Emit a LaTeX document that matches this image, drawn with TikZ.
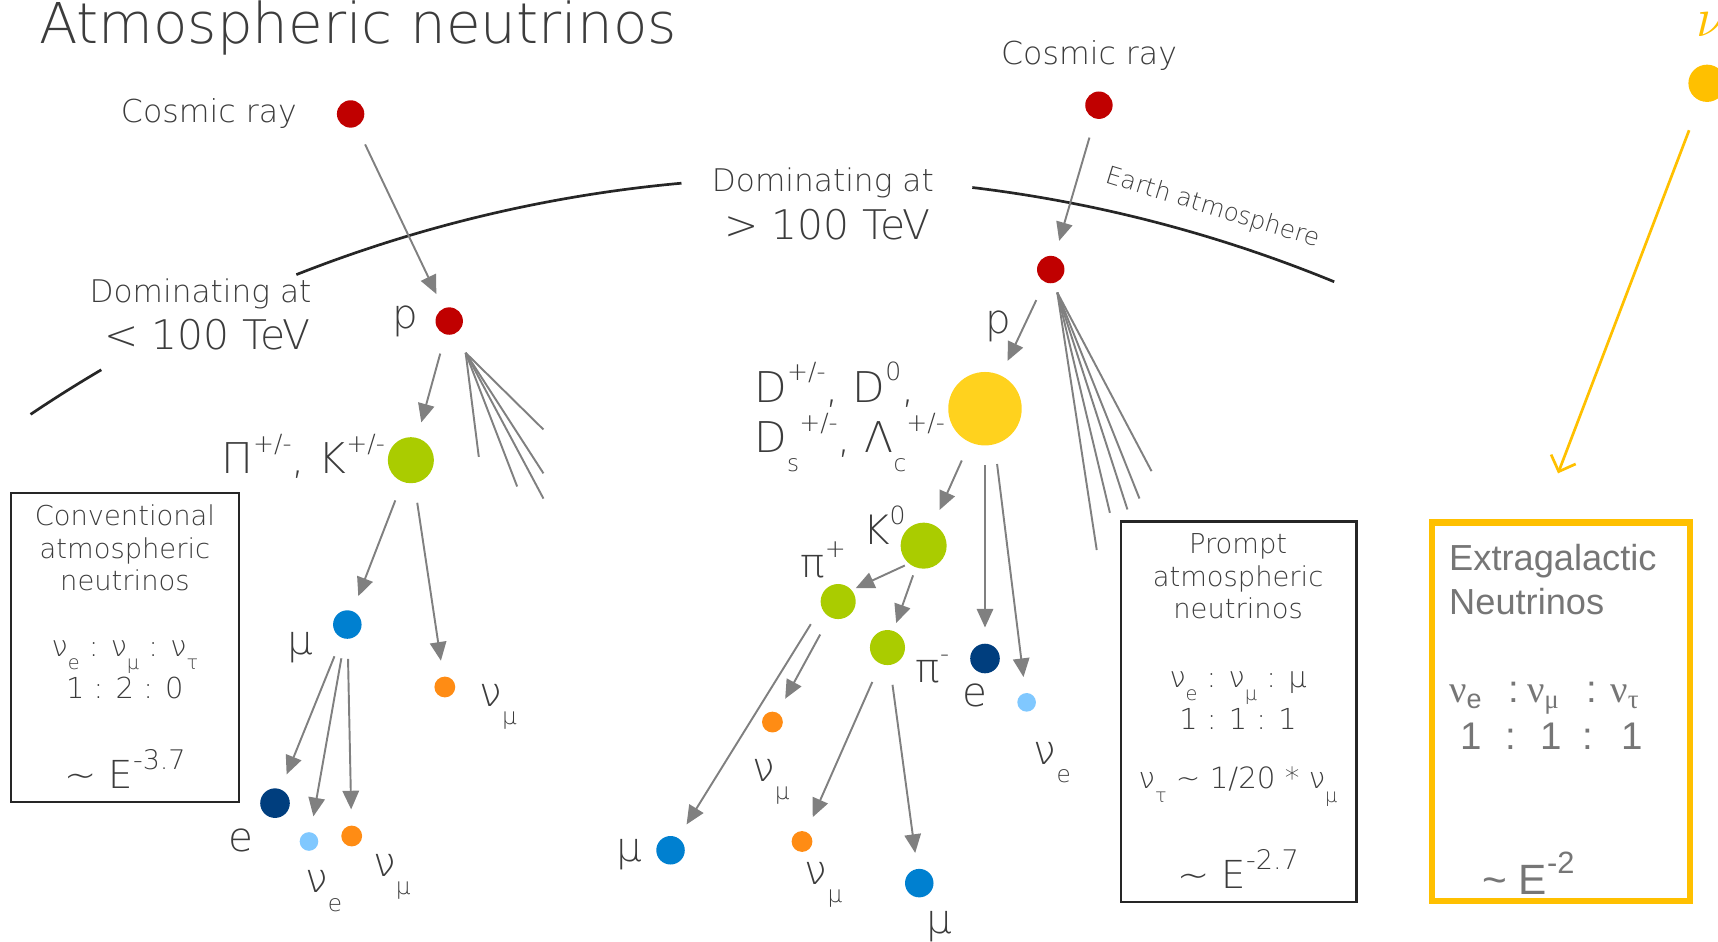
\documentclass[tikz,border=0pt]{standalone}
\usepackage{fontspec}
\IfFontExistsTF{DejaVu Sans ExtraLight}
  {\setmainfont{DejaVu Sans ExtraLight}}
  {\setmainfont{DejaVu Sans}}
\newfontfamily\egfont{Liberation Sans}
\newfontfamily\egserif{Liberation Serif}
\usetikzlibrary{positioning, arrows.meta, calc}
\definecolor{crred}{RGB}{192,0,0}
\definecolor{hadgreen}{RGB}{170,204,0}
\definecolor{charmyel}{RGB}{255,210,30}
\definecolor{mublue}{RGB}{0,128,208}
\definecolor{eblue}{RGB}{0,62,126}
\definecolor{nueblue}{RGB}{128,200,255}
\definecolor{numuorg}{RGB}{255,140,20}
\definecolor{egorange}{RGB}{255,192,0}
\definecolor{arrgray}{RGB}{128,128,128}
\definecolor{txtgray}{RGB}{60,60,60}
\definecolor{egtext}{RGB}{118,118,118}
\newcommand{\lowtag}[2][6]{\raisebox{-0.45em}{\fontsize{#1}{#1}\selectfont #2}}
\newcommand{\hightag}[2][6.5]{\raisebox{0.5em}{\fontsize{#1}{#1}\selectfont #2}}
\tikzset{
    crdot/.style={circle, fill=crred, minimum size=0.25cm, inner sep=0pt},
    hadron/.style={circle, fill=hadgreen, minimum size=#1, inner sep=0pt},
    charmdot/.style={circle, fill=charmyel, minimum size=0.67cm, inner sep=0pt},
    mudot/.style={circle, fill=mublue, minimum size=0.26cm, inner sep=0pt},
    edot/.style={circle, fill=eblue, minimum size=0.27cm, inner sep=0pt},
    nuedot/.style={circle, fill=nueblue, minimum size=0.17cm, inner sep=0pt},
    numudot/.style={circle, fill=numuorg, minimum size=0.19cm, inner sep=0pt},
    arr/.style={-{Triangle[length=0.17cm, width=0.15cm]}, line width=0.5pt, color=arrgray, shorten <=5pt, shorten >=4pt},
    spray/.style={line width=0.5pt, color=arrgray},
    atmo/.style={line width=0.7pt, color=black!85},
    ttl/.style={font=\fontsize{14.6}{17}\selectfont, text=txtgray, inner sep=0pt},
    crlbl/.style={font=\fontsize{8.2}{10}\selectfont, text=txtgray, inner sep=0pt},
    domlbl/.style={font=\fontsize{8.1}{10}\selectfont, text=txtgray, inner sep=0pt},
    tevlbl/.style={font=\fontsize{10.6}{12}\selectfont, text=txtgray, inner sep=0pt},
    atmlbl/.style={font=\fontsize{6.4}{8}\selectfont, text=txtgray, inner sep=0pt},
    plbl/.style={font=\fontsize{10.5}{12}\selectfont, text=txtgray, inner sep=0pt},
    dlbl/.style={font=\fontsize{11}{13}\selectfont, text=txtgray, inner sep=0pt},
    boxtxt/.style={font=\fontsize{7.1}{8.5}\selectfont, text=txtgray, align=center, inner sep=0pt},
    infobox/.style={rectangle, draw=black!85, line width=0.6pt},
    egbox/.style={rectangle, draw=egorange, line width=1.6pt},
    egtxt/.style={font=\egfont\fontsize{9.4}{11.4}\selectfont, text=egtext, align=left, inner sep=0pt},
    egarr/.style={-{Straight Barb[length=0.12cm, width=0.24cm]}, line width=0.7pt, color=egorange, shorten <=8pt}
}

\begin{document}
\begin{tikzpicture}[x=0.01cm, y=-0.01cm]
    \useasboundingbox (0,0) rectangle (1568,859);
    \node[ttl, anchor=base west] (title) at (35,40) {Atmospheric neutrinos};

    % Earth atmosphere
    \coordinate (earth) at (736,1430);
    \draw[atmo] ($(earth)+(-123.95:1268)$) arc[start angle=-123.95, end angle=-120.5, radius=1268];
    \draw[atmo] ($(earth)+(-111.54:1268)$) arc[start angle=-111.54, end angle=-95.16, radius=1268];
    \draw[atmo] ($(earth)+(-83.14:1268)$) arc[start angle=-83.14, end angle=-67.67, radius=1268];
    \node[atmlbl, rotate=-17] (atml) at (1107,190) {Earth atmosphere};
    \node[domlbl] (domA) at (183,268) {Dominating at};
    \node[tevlbl] (tevA) at (189,305) {< 100 TeV};
    \node[domlbl] (domB) at (751,167) {Dominating at};
    \node[tevlbl] (tevB) at (755,205) {> 100 TeV};

    % conventional shower
    \node[crdot] (crA) at (320,104) {};
    \node[crlbl, left=10pt of crA] (crAl) {Cosmic ray};
    \node[crdot] (pA) at (410,293) {};
    \node[plbl, left=4pt of pA] (pAl) {p};
    \node[hadron=0.42cm] (piK) at (375,420) {};
    \node[dlbl, anchor=base east] (piKl) at (352,432) {Π\hightag{+/-}, K\hightag{+/-}};
    \node[mudot] (muA) at (317,570) {};
    \node[plbl, anchor=base west] (muAl) at (262,597) {μ};
    \node[numudot] (numuA) at (406,627) {};
    \node[plbl, anchor=base west] (numuAl) at (437,645) {ν\lowtag{μ}};
    \node[edot] (eA) at (251,733) {};
    \node[plbl, anchor=base west] (eAl) at (208,777) {e};
    \node[nuedot] (nueA) at (282,768) {};
    \node[plbl, anchor=base west] (nueAl) at (278,815) {ν\lowtag{e}};
    \node[numudot] (numuA2) at (321,763) {};
    \node[plbl, anchor=base west] (numuA2l) at (340,800) {ν\lowtag{μ}};
    \draw[arr] (crA) -- (pA);
    \draw[arr] (pA) -- (piK);
    \draw[arr] (piK) -- (muA);
    \draw[arr] (piK) -- (numuA);
    \draw[arr] (muA) -- (eA);
    \draw[arr] (muA) -- (nueA);
    \draw[arr] (muA) -- (numuA2);
    \coordinate (hitA) at (425,322);
    \coordinate (sA1) at (437,417);
    \coordinate (sA2) at (472,444);
    \coordinate (sA3) at (496,455);
    \coordinate (sA4) at (496,432);
    \coordinate (sA5) at (496,392);
    \draw[spray] (hitA) -- (sA1);
    \draw[spray] (hitA) -- (sA2);
    \draw[spray] (hitA) -- (sA3);
    \draw[spray] (hitA) -- (sA4);
    \draw[spray] (hitA) -- (sA5);

    % prompt shower
    \node[crdot] (crB) at (1003,96) {};
    \node[crlbl, above=5pt of crB, xshift=-0.09cm] (crBl) {Cosmic ray};
    \node[crdot] (pB) at (959,246) {};
    \node[plbl, anchor=base west] (pBl) at (899,304) {p};
    \node[charmdot] (charm) at (899,373) {};
    \node[dlbl, anchor=base west] (charml1) at (688,367) {D\hightag{+/-}, D\hightag{0},};
    \node[dlbl, anchor=base west] (charml2) at (688,413) {D\lowtag{s}\hightag{+/-}, Λ\lowtag{c}\hightag{+/-}};
    \node[hadron=0.42cm] (kzero) at (843,498) {};
    \node[plbl, anchor=base west] (kzerol) at (787,497) {K\hightag{0}};
    \node[hadron=0.32cm] (piplus) at (765,549) {};
    \node[plbl, anchor=base west] (piplusl) at (730,527) {π\hightag{+}};
    \node[hadron=0.32cm] (piminus) at (810,591) {};
    \node[plbl, anchor=base west] (piminusl) at (835,623) {π\hightag{-}};
    \node[edot] (eB) at (899,601) {};
    \node[plbl, anchor=base west] (eBl) at (878,645) {e};
    \node[nuedot] (nueB) at (937,641) {};
    \node[plbl, anchor=base west] (nueBl) at (943,698) {ν\lowtag{e}};
    \node[mudot] (muB1) at (612,776) {};
    \node[plbl, anchor=base west] (muB1l) at (562,786) {μ};
    \node[numudot] (numuB1) at (705,659) {};
    \node[plbl, anchor=base west] (numuB1l) at (686,713) {ν\lowtag{μ}};
    \node[numudot] (numuB2) at (732,768) {};
    \node[plbl, anchor=base west] (numuB2l) at (734,807) {ν\lowtag{μ}};
    \node[mudot] (muB2) at (839,806) {};
    \node[plbl, anchor=base west] (muB2l) at (845,852) {μ};
    \draw[arr] (crB) -- (pB);
    \draw[arr] (pB) -- (charm);
    \draw[arr] (charm) -- (kzero);
    \draw[arr] (charm) -- (eB);
    \draw[arr] (charm.-75) -- (nueB);
    \draw[arr, shorten <=1pt, shorten >=1pt] (kzero.230) -- (piplus.40);
    \draw[arr, shorten <=2pt, shorten >=2pt] (kzero) -- (piminus);
    \draw[arr] (piplus.200) -- (muB1);
    \draw[arr] (piplus) -- (numuB1);
    \draw[arr] (piminus) -- (numuB2);
    \draw[arr] (piminus) -- (muB2);
    \coordinate (hitB) at (965,267);
    \coordinate (sB1) at (1001,502);
    \coordinate (sB2) at (1013,468);
    \coordinate (sB3) at (1029,465);
    \coordinate (sB4) at (1040,455);
    \coordinate (sB5) at (1051,430);
    \draw[spray] (hitB) -- (sB1);
    \draw[spray] (hitB) -- (sB2);
    \draw[spray] (hitB) -- (sB3);
    \draw[spray] (hitB) -- (sB4);
    \draw[spray] (hitB) -- (sB5);

    % summary boxes
    \node[infobox, minimum width=2.08cm, minimum height=2.82cm] (convbox) at (114,591) {};
    \node[boxtxt] (convt) at (114,500) {Conventional\\atmospheric\\neutrinos};
    \node[boxtxt, font=\fontsize{7.5}{9.1}\selectfont] (convr) at (114,611) {ν\lowtag[5]{e} : ν\lowtag[5]{μ} : ν\lowtag[5]{τ}\\1 : 2 : 0};
    \node[boxtxt, font=\fontsize{10}{12}\selectfont] (conve) at (114,702) {\textasciitilde{} E\hightag[7]{-3.7}};

    \node[infobox, minimum width=2.15cm, minimum height=3.47cm] (promptbox) at (1130.5,649.5) {};
    \node[boxtxt] (promptt) at (1130,526) {Prompt\\atmospheric\\neutrinos};
    \node[boxtxt, font=\fontsize{7.5}{9.6}\selectfont] (promptr) at (1130,639) {ν\lowtag[5]{e} : ν\lowtag[5]{μ} : μ\\1 : 1 : 1};
    \node[boxtxt, font=\fontsize{7.6}{10}\selectfont] (prompttau) at (1130,718) {ν\lowtag[5]{τ} \textasciitilde{} 1/20 * ν\lowtag[5]{μ}};
    \node[boxtxt, font=\fontsize{10}{12}\selectfont] (prompte) at (1130,793) {\textasciitilde{} E\hightag[7]{-2.7}};

    \node[egbox, minimum width=2.35cm, minimum height=3.45cm] (extra) at (1424.5,649.5) {};
    \node[egtxt, anchor=north west] (extrat) at (1322,496) {Extragalactic\\Neutrinos};
    \node[egtxt, font=\egfont\fontsize{10}{12}\selectfont, anchor=base west] (extrar1) at (1322,641) {\makebox[0.54cm][l]{{\egserif ν}\textsubscript{e}}\makebox[0.17cm][l]{:}\makebox[0.54cm][l]{{\egserif ν\textsubscript{μ}}}\makebox[0.22cm][l]{:}{\egserif ν\textsubscript{τ}}};
    \node[egtxt, font=\egfont\fontsize{10}{12}\selectfont, anchor=base west] (extrar2) at (1322,684) {\hspace{0.10cm}\makebox[0.41cm][l]{1}\makebox[0.32cm][l]{:}\makebox[0.39cm][l]{1}\makebox[0.35cm][l]{:}1};
    \node[egtxt, font=\egfont\fontsize{11}{13}\selectfont] (extrae) at (1395,797) {\textasciitilde{} E\hightag[8]{-2}};

    % incoming extragalactic neutrino
    \node[circle, fill=egorange, minimum size=0.34cm, inner sep=0pt] (nuX) at (1558,76) {};
    \node[text=egorange, font=\fontsize{14}{14}\selectfont, inner sep=0pt] (nuXl) at (1562,22) {$\nu$};
    \coordinate (nuXend) at (1422,432);
    \draw[egarr] (nuX) -- (nuXend);
\end{tikzpicture}
\end{document}
